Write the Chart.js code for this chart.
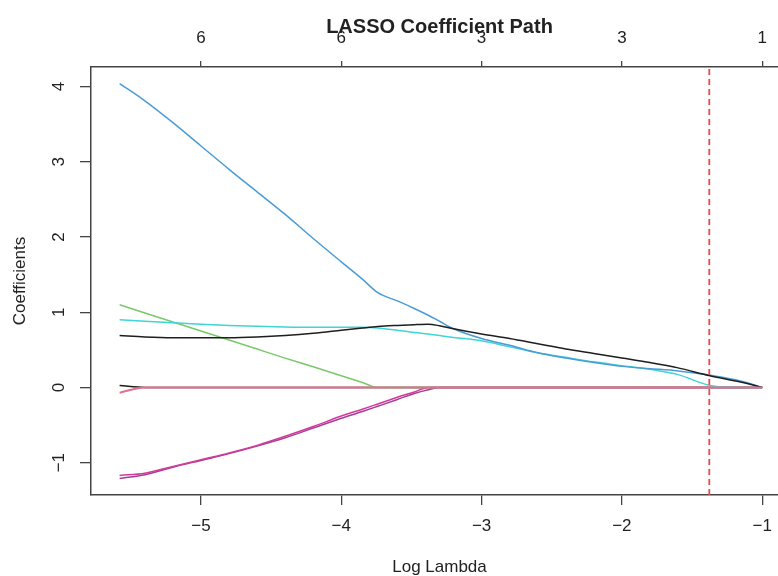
<!DOCTYPE html>
<html>
<head>
<meta charset="utf-8">
<script src="https://cdn.jsdelivr.net/npm/chart.js@4.4.1/dist/chart.umd.min.js"></script>
<style>
    html, body { margin: 0; padding: 0; background: #fff; overflow: hidden; }
    #wrap { width: 778px; height: 576px; overflow: hidden; }
</style>
</head>
<body>
<div id="wrap"><canvas id="myChart" width="800" height="576"></canvas></div>
<script>
let logLambda = [-5.58, -5.4, -5.2, -5.0, -4.8, -4.6, -4.4, -4.2, -4.0, -3.85, -3.74, -3.6, -3.48, -3.38, -3.3, -3.2, -3.0, -2.8, -2.6, -2.4, -2.2, -2.0, -1.8, -1.6, -1.38, -1.2, -1.1, -1.0];

let blueCoef = [4.04, 3.81, 3.52, 3.21, 2.90, 2.60, 2.30, 1.98, 1.67, 1.44, 1.26, 1.15, 1.05, 0.96, 0.88, 0.78, 0.65, 0.56, 0.46, 0.39, 0.33, 0.28, 0.25, 0.22, 0.165, 0.105, 0.06, 0.0];
let blackCoef = [0.69, 0.67, 0.66, 0.66, 0.66, 0.67, 0.69, 0.72, 0.76, 0.79, 0.81, 0.825, 0.835, 0.84, 0.82, 0.78, 0.71, 0.65, 0.58, 0.51, 0.45, 0.39, 0.33, 0.26, 0.16, 0.09, 0.05, 0.0];
let cyanCoef = [0.90, 0.88, 0.86, 0.84, 0.825, 0.815, 0.805, 0.80, 0.80, 0.80, 0.79, 0.76, 0.73, 0.71, 0.69, 0.665, 0.62, 0.54, 0.46, 0.40, 0.34, 0.29, 0.24, 0.17, 0.03, 0, 0, 0];
let greenCoef = [1.10, 0.99, 0.87, 0.75, 0.63, 0.51, 0.39, 0.275, 0.155, 0.065, 0, 0, 0, 0, 0, 0, 0, 0, 0, 0, 0, 0, 0, 0, 0, 0, 0, 0];
let magentaCoefA = [-1.17, -1.14, -1.05, -0.96, -0.87, -0.77, -0.65, -0.52, -0.38, -0.29, -0.22, -0.13, -0.06, 0, 0, 0, 0, 0, 0, 0, 0, 0, 0, 0, 0, 0, 0, 0];
let magentaCoefB = [-1.21, -1.16, -1.06, -0.97, -0.88, -0.78, -0.67, -0.54, -0.41, -0.32, -0.25, -0.16, -0.08, -0.03, 0, 0, 0, 0, 0, 0, 0, 0, 0, 0, 0, 0, 0, 0];
let smallBlackCoef = [0.025, 0, 0, 0, 0, 0, 0, 0, 0, 0, 0, 0, 0, 0, 0, 0, 0, 0, 0, 0, 0, 0, 0, 0, 0, 0, 0, 0];
let pinkCoef = [-0.07, 0, 0, 0, 0, 0, 0, 0, 0, 0, 0, 0, 0, 0, 0, 0, 0, 0, 0, 0, 0, 0, 0, 0, 0, 0, 0, 0];

let xTicks = [-5, -4, -3, -2, -1];
let dfLabels = ['6', '6', '3', '3', '1'];
let yTicks = [-1, 0, 1, 2, 3, 4];
let cvLogLambda = -1.377;

let xMin = -5.784, xMax = -0.816;
let yMin = -1.43, yMax = 4.26;

const FONT = '"Liberation Sans", Arial, sans-serif';
const AXIS_COLOR = '#444';

function toPoints(values) {
    return logLambda.map((x, i) => ({ x: x, y: values[i] }));
}

function minus(v) {
    return String(v).replace('-', '\u2212');
}

function pathLine(values, color, order, width) {
    return {
        data: toPoints(values),
        borderColor: color,
        backgroundColor: color,
        borderWidth: width || 1.5,
        pointRadius: 0,
        cubicInterpolationMode: 'monotone',
        order: order
    };
}

// y labels are rotated like in R, Chart.js can't do that itself
const rPlotText = {
    id: 'rPlotText',
    afterDraw(chart) {
        let ctx = chart.ctx;
        let yScale = chart.scales.y;
        ctx.save();
        ctx.fillStyle = '#222';
        ctx.textAlign = 'center';
        ctx.textBaseline = 'middle';
        ctx.font = '17px ' + FONT;
        for (let i = 0; i < yTicks.length; i++) {
            ctx.save();
            ctx.translate(59, yScale.getPixelForValue(yTicks[i]));
            ctx.rotate(-Math.PI / 2);
            ctx.fillText(minus(yTicks[i]), 0, 0);
            ctx.restore();
        }
        ctx.font = 'bold 20px ' + FONT;
        ctx.fillText('LASSO Coefficient Path', (chart.chartArea.left + chart.chartArea.right) / 2, 27);
        ctx.restore();
    }
};

let data = {
    datasets: [
        pathLine(pinkCoef, '#E2708C', 0, 2),
        pathLine(blackCoef, '#1e1e1e', 1),
        pathLine(blueCoef, '#4A9CD6', 2),
        pathLine(cyanCoef, '#3FD4D6', 3),
        pathLine(greenCoef, '#79C96B', 4),
        pathLine(magentaCoefA, '#D23C98', 5),
        pathLine(magentaCoefB, '#A83C9E', 6),
        pathLine(smallBlackCoef, '#1e1e1e', 7),
        {
            data: [{ x: cvLogLambda, y: yMin }, { x: cvLogLambda, y: yMax }],
            borderColor: '#E84A50',
            borderWidth: 1.8,
            borderDash: [6, 4],
            pointRadius: 0,
            order: -1
        }
    ]
};

const config = {
    type: 'line',
    data: data,
    options: {
        responsive: false,
        animation: false,
        devicePixelRatio: 1,
        layout: { padding: { left: 0, right: 12, top: 0, bottom: 0 } },
        plugins: {
            legend: { display: false },
            tooltip: { enabled: false },
            title: { display: false }
        },
        scales: {
            x: {
                type: 'linear',
                position: 'bottom',
                min: xMin,
                max: xMax,
                afterBuildTicks: (s) => { s.ticks = xTicks.map(v => ({ value: v })); },
                afterFit: (s) => { s.height = 81; },
                border: { display: true, color: AXIS_COLOR, width: 1.5 },
                grid: { drawOnChartArea: false, drawTicks: true, tickLength: 10, color: AXIS_COLOR, lineWidth: 1.3 },
                ticks: {
                    color: '#222',
                    font: { family: FONT, size: 17 },
                    padding: 11,
                    maxRotation: 0,
                    autoSkip: false,
                    callback: (v) => minus(v)
                },
                title: {
                    display: true,
                    text: 'Log Lambda',
                    color: '#222',
                    font: { family: FONT, size: 17, lineHeight: 1 },
                    padding: { top: 0, bottom: 0 }
                }
            },
            x2: {
                type: 'linear',
                position: 'top',
                min: xMin,
                max: xMax,
                afterBuildTicks: (s) => { s.ticks = xTicks.map(v => ({ value: v })); },
                afterFit: (s) => { s.height = 67; },
                border: { display: true, color: AXIS_COLOR, width: 1.5 },
                grid: { drawOnChartArea: false, drawTicks: true, tickLength: 6, color: AXIS_COLOR, lineWidth: 1.3 },
                ticks: {
                    color: '#222',
                    font: { family: FONT, size: 17 },
                    padding: 12,
                    maxRotation: 0,
                    autoSkip: false,
                    callback: (v) => dfLabels[xTicks.indexOf(v)]
                }
            },
            y: {
                type: 'linear',
                position: 'left',
                min: yMin,
                max: yMax,
                afterBuildTicks: (s) => { s.ticks = yTicks.map(v => ({ value: v })); },
                afterFit: (s) => { s.width = 91; },
                border: { display: true, color: AXIS_COLOR, width: 1.5 },
                grid: { drawOnChartArea: false, drawTicks: true, tickLength: 11, color: AXIS_COLOR, lineWidth: 1.3 },
                ticks: { color: 'transparent', font: { family: FONT, size: 17 } },
                title: {
                    display: true,
                    text: 'Coefficients',
                    color: '#222',
                    font: { family: FONT, size: 17, lineHeight: 1 },
                    padding: { top: 12, bottom: 0 }
                }
            }
        }
    },
    plugins: [rPlotText]
};

let myChart = new Chart(document.getElementById('myChart'), config);
</script>
</body>
</html>
